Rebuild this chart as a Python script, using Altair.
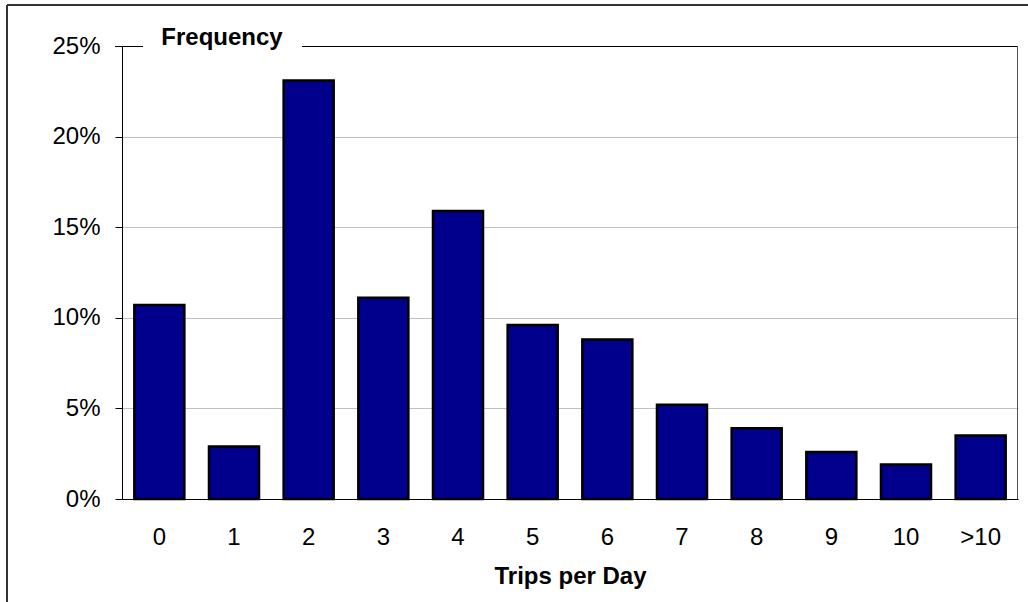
import altair as alt
import pandas as pd

# Share of days by number of trips
trips = ["0", "1", "2", "3", "4", "5", "6", "7", "8", "9", "10", ">10"]
freq_pct = [10.7, 2.9, 23.1, 11.1, 15.9, 9.6, 8.8, 5.2, 3.9, 2.6, 1.9, 3.5]
y_ticks = [0, 5, 10, 15, 20, 25]

W, H = 896, 453
FONT = "Liberation Sans"

df = pd.DataFrame({"trips": trips, "freq": freq_pct})
one = pd.DataFrame({"k": [0]})

bars = alt.Chart(df).mark_bar(
    color="#00008C", stroke="#000000", strokeWidth=2.5
).encode(
    x=alt.X(
        "trips:N",
        sort=trips,
        scale=alt.Scale(paddingInner=0.33, paddingOuter=0.165),
        axis=alt.Axis(
            title="Trips per Day",
            labelAngle=0,
            ticks=False,
            tickSize=0,
            domainColor="#000000",
            domainWidth=1,
            labelFontSize=24,
            labelFont=FONT,
            labelColor="#000000",
            labelPadding=26,
            titleFont=FONT,
            titleFontSize=24,
            titleFontWeight="bold",
            titleColor="#000000",
            titlePadding=15,
        ),
    ),
    y=alt.Y(
        "freq:Q",
        scale=alt.Scale(domain=[0, 25], nice=False),
        axis=alt.Axis(
            values=y_ticks,
            labelExpr="datum.value + '%'",
            title=None,
            tickSize=7,
            tickColor="#000000",
            domainColor="#000000",
            labelPadding=15,
            labelFontSize=24,
            labelFont=FONT,
            labelColor="#000000",
            gridColor="#c0c0c0",
            gridOpacity={"condition": {"test": "datum.value >= 25", "value": 0}, "value": 1},
        ),
    ),
)

# plot frame: top edge broken around the heading, right edge
top_left = alt.Chart(one).mark_rule(color="#000000", strokeWidth=1).encode(
    x=alt.value(-7), x2=alt.value(21), y=alt.value(0.5)
)
top_right = alt.Chart(one).mark_rule(color="#000000", strokeWidth=1).encode(
    x=alt.value(180), x2=alt.value(W), y=alt.value(0.5)
)
right_edge = alt.Chart(one).mark_rule(color="#555555", strokeWidth=1).encode(
    x=alt.value(W - 0.5), y=alt.value(0), y2=alt.value(H)
)

heading = alt.Chart(one).mark_text(
    text="Frequency", font=FONT, fontSize=24, fontWeight="bold",
    color="#000000", align="center", baseline="alphabetic"
).encode(x=alt.value(100), y=alt.value(-1))

# outer chart border
outer_top = alt.Chart(one).mark_rule(color="#333333", strokeWidth=2).encode(
    x=alt.value(-115), x2=alt.value(W + 20), y=alt.value(-41)
)
outer_left = alt.Chart(one).mark_rule(color="#333333", strokeWidth=2).encode(
    x=alt.value(-115), y=alt.value(-41), y2=alt.value(H + 120)
)

chart = alt.layer(
    bars, top_left, top_right, right_edge, heading, outer_top, outer_left
).properties(
    width=W,
    height=H,
    autosize=alt.AutoSizeParams(type="none"),
    padding={"left": 122, "top": 46, "right": 10, "bottom": 103},
    background="#ffffff",
).configure_view(stroke=None)

chart.save("out.html", embed_options={"renderer": "svg", "actions": False})
